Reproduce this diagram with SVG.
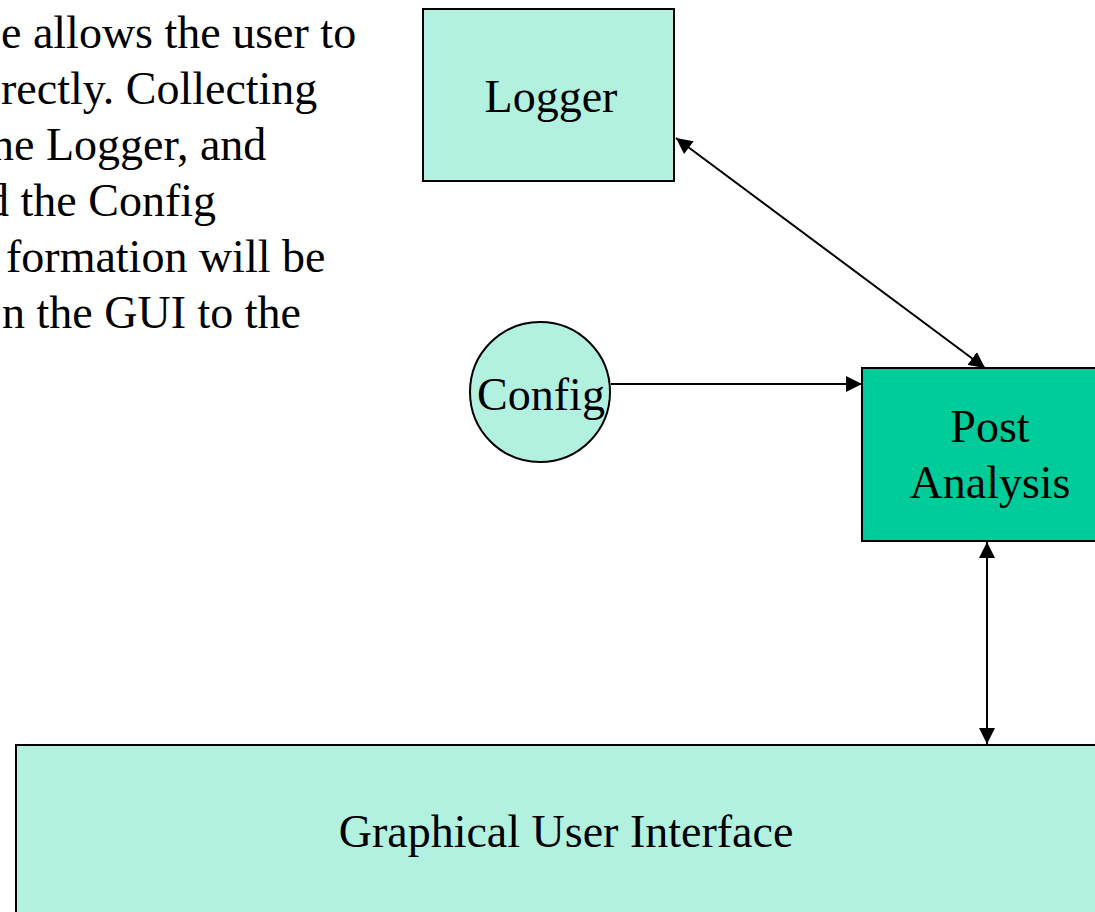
<svg xmlns="http://www.w3.org/2000/svg" width="1095" height="912" viewBox="0 0 1095 912">
  <style>
    .txt { font-family: "Liberation Serif", "Times New Roman", serif; font-size: 46px; fill: #000; }
    .mid { text-anchor: middle; }
    .light { fill: #B2F0E0; stroke: #000; stroke-width: 2; }
    .dark { fill: #00CC99; stroke: #000; stroke-width: 2; }
    .link { stroke: #000; stroke-width: 2; fill: none; }
  </style>
  <defs>
    <marker id="arrowEnd" markerUnits="userSpaceOnUse" markerWidth="18" markerHeight="16" refX="16" refY="8" orient="auto">
      <path d="M0,0 L16,8 L0,16 Z" fill="#000"/>
    </marker>
    <marker id="arrowStart" markerUnits="userSpaceOnUse" markerWidth="18" markerHeight="16" refX="0" refY="8" orient="auto">
      <path d="M16,0 L0,8 L16,16 Z" fill="#000"/>
    </marker>
  </defs>

  <rect width="1095" height="912" fill="#fff"/>

  <!-- description text, cut off at the left edge -->
  <g id="notes" class="txt">
    <text x="1" y="48">e allows the user to</text>
    <text x="1" y="104">rectly. Collecting</text>
    <text x="-9" y="160">ne Logger, and</text>
    <text x="-14" y="216">d the Config</text>
    <text x="6" y="272">formation will be</text>
    <text x="2" y="328">n the GUI to the</text>
  </g>

  <!-- connectors -->
  <g id="connectors">
    <line class="link" x1="676" y1="138" x2="985" y2="368" marker-start="url(#arrowStart)" marker-end="url(#arrowEnd)"/>
    <line class="link" x1="611" y1="384" x2="862" y2="384" marker-end="url(#arrowEnd)"/>
    <line class="link" x1="987" y1="542" x2="987" y2="744" marker-start="url(#arrowStart)" marker-end="url(#arrowEnd)"/>
  </g>

  <g id="logger">
    <rect class="light" x="423" y="9" width="251" height="172"/>
    <text class="txt mid" x="551" y="112">Logger</text>
  </g>

  <g id="config">
    <circle class="light" cx="540" cy="392" r="70" stroke-width="1.5"/>
    <text class="txt mid" x="541" y="410">Config</text>
  </g>

  <g id="post-analysis">
    <rect class="dark" x="862" y="368" width="256" height="173"/>
    <text class="txt mid" x="990" y="442">Post</text>
    <text class="txt mid" x="990" y="498">Analysis</text>
  </g>

  <g id="gui">
    <rect class="light" x="16" y="745" width="1100" height="180"/>
    <text class="txt mid" x="566" y="847">Graphical User Interface</text>
  </g>
</svg>
